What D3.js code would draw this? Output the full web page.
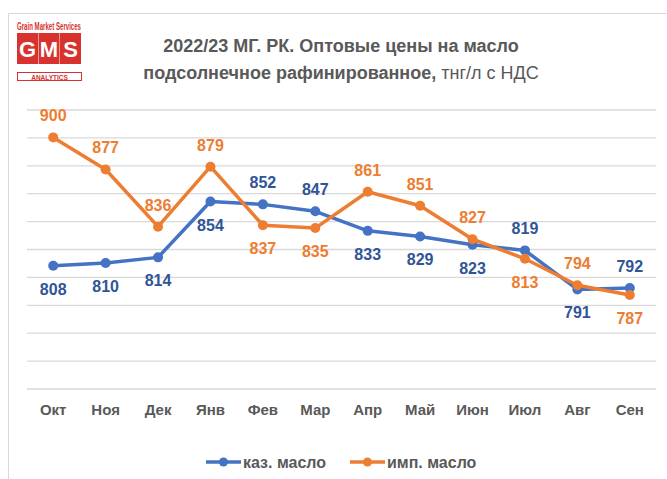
<!DOCTYPE html>
<html>
<head>
<meta charset="utf-8">
<script src="https://cdn.jsdelivr.net/npm/d3@7"></script>
<style>
  body { margin: 0; background: #fff; }
  text { font-family: "Liberation Sans", Arial, sans-serif; }
</style>
</head>
<body>
<svg width="667" height="479"></svg>
<script>
var width = 667;
var height = 479;
var margin = {left: 27, right: 12, top: 109, bottom: 91};

// data
var months = ["Окт", "Ноя", "Дек", "Янв", "Фев", "Мар", "Апр", "Май", "Июн", "Июл", "Авг", "Сен"];
var kazOil = [808, 810, 814, 854, 852, 847, 833, 829, 823, 819, 791, 792];
var impOil = [900, 877, 836, 879, 837, 835, 861, 851, 827, 813, 794, 787];
var yTicks = [720, 740, 760, 780, 800, 820, 840, 860, 880, 900, 920];

// where the value labels sit (1 = above, -1 = below)
var kazLabelSide = [-1, -1, -1, -1, 1, 1, -1, -1, -1, 1, -1, 1];
var impLabelSide = [1, 1, 1, 1, -1, -1, 1, 1, 1, -1, 1, -1];

var blue = "#4472C4", orange = "#ED7D31";

var svg = d3.select("svg");

// outer frame
svg.append("path")
  .attr("d", "M8.5," + height + "V13.5H" + width)
  .attr("fill", "none")
  .attr("stroke", "#d9d9d9");

// logo
var logo = svg.append("g");
logo.append("text")
  .attr("x", 17).attr("y", 30)
  .attr("font-size", 10.5).attr("font-weight", "bold")
  .attr("fill", "#D7322E")
  .attr("textLength", 64)
  .attr("lengthAdjust", "spacingAndGlyphs")
  .text("Grain Market Services");
["G", "M", "S"].forEach(function (l, i) {
  logo.append("rect")
    .attr("x", 17 + i * 21.5).attr("y", 33)
    .attr("width", 21).attr("height", 31)
    .attr("fill", "#D7322E");
  logo.append("text")
    .attr("x", 17 + i * 21.5 + 10.5).attr("y", 57)
    .attr("text-anchor", "middle")
    .attr("font-size", 22).attr("font-weight", "bold")
    .attr("fill", "#fff")
    .text(l);
});
logo.append("rect")
  .attr("x", 17.5).attr("y", 72.5).attr("width", 64).attr("height", 8)
  .attr("fill", "#fff").attr("stroke", "#D7322E");
logo.append("text")
  .attr("x", 49.5).attr("y", 79.5)
  .attr("text-anchor", "middle")
  .attr("font-size", 6.5).attr("font-weight", "bold")
  .attr("fill", "#D7322E")
  .text("ANALYTICS");

// title
var title = svg.append("text")
  .attr("text-anchor", "middle")
  .attr("font-size", 18)
  .attr("fill", "#595959");
title.append("tspan")
  .attr("x", 341).attr("y", 52)
  .attr("font-weight", "bold")
  .text("2022/23 МГ. РК. Оптовые цены на масло");
var t2 = title.append("tspan").attr("x", 341).attr("y", 79);
t2.append("tspan").attr("font-weight", "bold").text("подсолнечное рафинированное,");
t2.append("tspan").text(" тнг/л с НДС");

// scales
var x = d3.scaleBand().domain(months).range([margin.left, 656]);
var y = d3.scaleLinear().domain([720, 920]).range([388.5, 109.5]);

// gridlines
svg.append("g")
  .attr("transform", "translate(" + margin.left + ",0)")
  .call(d3.axisLeft(y).tickValues(yTicks).tickSize(-(656 - margin.left)).tickFormat(""))
  .call(function (g) { g.select(".domain").remove(); })
  .selectAll("line")
  .attr("stroke", "#d9d9d9")
  .attr("stroke-width", 1.3);

// x axis labels
svg.append("g")
  .attr("transform", "translate(0," + 388.5 + ")")
  .call(d3.axisBottom(x).tickSize(0).tickPadding(16))
  .call(function (g) { g.select(".domain").remove(); })
  .selectAll("text")
  .attr("font-family", "'Liberation Sans', Arial, sans-serif")
  .attr("font-size", 15)
  .attr("font-weight", "bold")
  .attr("fill", "#595959");

function cx(d, i) { return x(months[i]) + x.bandwidth() / 2; }

function drawSeries(values, color, labelColor, sides) {
  var line = d3.line().x(cx).y(function (d) { return y(d); });
  svg.append("path")
    .datum(values)
    .attr("d", line)
    .attr("fill", "none")
    .attr("stroke", color)
    .attr("stroke-width", 3.5)
    .attr("stroke-linejoin", "round");
  svg.append("g").selectAll("circle")
    .data(values)
    .enter()
    .append("circle")
    .attr("cx", cx)
    .attr("cy", function (d) { return y(d); })
    .attr("r", 5)
    .attr("fill", color);
  svg.append("g").selectAll("text")
    .data(values)
    .enter()
    .append("text")
    .attr("x", cx)
    .attr("y", function (d, i) { return y(d) + (sides[i] > 0 ? -16 : 29); })
    .attr("text-anchor", "middle")
    .attr("font-size", 16)
    .attr("font-weight", "bold")
    .attr("fill", labelColor)
    .text(function (d) { return d; });
}

drawSeries(kazOil, blue, "#2F5597", kazLabelSide);
drawSeries(impOil, orange, orange, impLabelSide);

// legend
var legend = [
  {name: "каз. масло", color: blue, x: 206},
  {name: "имп. масло", color: orange, x: 350}
];
var lg = svg.append("g").selectAll("g")
  .data(legend)
  .enter()
  .append("g")
  .attr("transform", function (d) { return "translate(" + d.x + ",462)"; });
lg.append("line")
  .attr("x1", 0).attr("x2", 35)
  .attr("stroke", function (d) { return d.color; })
  .attr("stroke-width", 3.5);
lg.append("circle")
  .attr("cx", 17.5).attr("r", 4.5)
  .attr("fill", function (d) { return d.color; });
lg.append("text")
  .attr("x", 37).attr("y", 6)
  .attr("font-size", 16)
  .attr("font-weight", "bold")
  .attr("fill", "#595959")
  .text(function (d) { return d.name; });
</script>
</body>
</html>
